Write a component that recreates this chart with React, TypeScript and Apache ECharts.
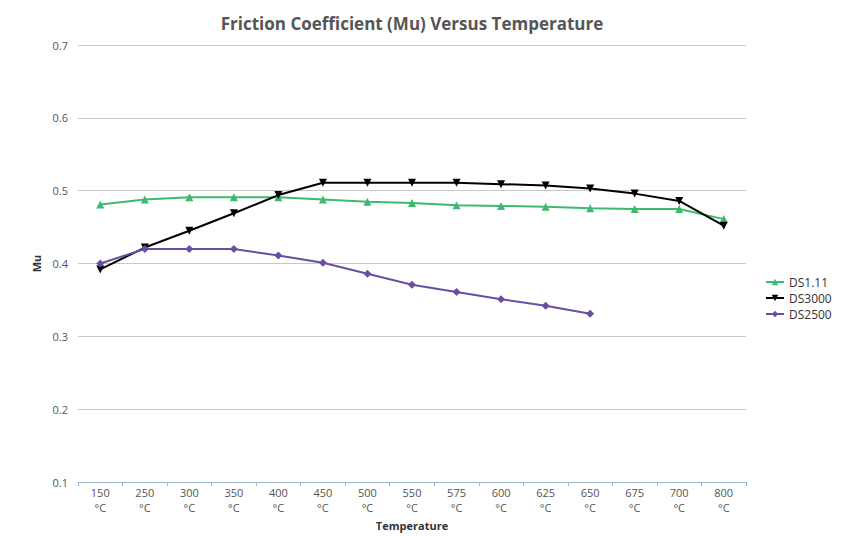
import React, { useEffect, useRef } from "react";
import * as echarts from "echarts";

const categories = ["150", "250", "300", "350", "400", "450", "500", "550", "575", "600", "625", "650", "675", "700", "800"];
const ds111 = [0.481, 0.488, 0.491, 0.491, 0.491, 0.488, 0.485, 0.483, 0.480, 0.479, 0.478, 0.476, 0.475, 0.475, 0.461];
const ds3000 = [0.392, 0.422, 0.445, 0.469, 0.494, 0.511, 0.511, 0.511, 0.511, 0.509, 0.507, 0.503, 0.496, 0.486, 0.452];
const ds2500 = [0.400, 0.420, 0.420, 0.420, 0.411, 0.401, 0.386, 0.371, 0.361, 0.351, 0.342, 0.331, null, null, null];

const FONT = "'Open Sans', 'DejaVu Sans', sans-serif";

export default function App() {
  const ref = useRef<HTMLDivElement>(null);
  useEffect(() => {
    const chart = echarts.init(ref.current!, null, { renderer: "svg" });
    chart.setOption({
      animation: false,
      backgroundColor: "#ffffff",
      textStyle: { fontFamily: FONT },
      title: {
        text: "Friction Coefficient (Mu) Versus Temperature",
        left: 407,
        top: 10,
        textAlign: "center",
        textStyle: { fontSize: 17, fontWeight: "bold", color: "#555555", fontFamily: FONT },
      },
      legend: {
        orient: "vertical",
        left: 760,
        top: 271,
        itemWidth: 18,
        itemHeight: 8,
        itemGap: 4,
        textStyle: { fontSize: 12, color: "#333", fontFamily: FONT },
        data: ["DS1.11", "DS3000", "DS2500"],
      },
      grid: { left: 78, right: 96, top: 45, bottom: 39 },
      xAxis: {
        type: "category",
        data: categories,
        boundaryGap: true,
        name: "Temperature",
        nameLocation: "middle",
        nameGap: 34,
        nameTextStyle: { fontSize: 11, fontWeight: "bold", color: "#333", fontFamily: FONT },
        axisLine: { lineStyle: { color: "#9fb8d0" } },
        axisTick: { show: true, length: 4, lineStyle: { color: "#9fb8d0" } },
        axisLabel: {
          interval: 0,
          fontSize: 11,
          color: "#555",
          lineHeight: 15,
          margin: 3,
          formatter: (v: string) => v + "\n°C",
        },
      },
      yAxis: {
        type: "value",
        min: 0.1,
        max: 0.7,
        interval: 0.1,
        name: "Mu",
        nameLocation: "middle",
        nameGap: 31,
        nameRotate: 90,
        nameTextStyle: { fontSize: 11, fontWeight: "bold", color: "#333", fontFamily: FONT },
        axisLine: { show: false },
        axisTick: { show: false },
        splitLine: { lineStyle: { color: "#c8c8c8" } },
        axisLabel: {
          fontSize: 11,
          color: "#555",
          margin: 10,
          formatter: (v: number) => v.toFixed(1),
        },
      },
      series: [
        {
          name: "DS1.11",
          type: "line",
          data: ds111,
          symbol: "triangle",
          symbolSize: 8,
          color: "#3dba6f",
          lineStyle: { width: 2 },
        },
        {
          name: "DS3000",
          type: "line",
          data: ds3000,
          symbol: "triangle",
          symbolRotate: 180,
          symbolSize: 8,
          color: "#000000",
          lineStyle: { width: 2 },
        },
        {
          name: "DS2500",
          type: "line",
          data: ds2500,
          symbol: "diamond",
          symbolSize: 8,
          color: "#6a4ea4",
          lineStyle: { width: 2 },
        },
      ],
    });
    return () => chart.dispose();
  }, []);
  return <div ref={ref} style={{ position: "absolute", left: 0, top: 0, width: 842, height: 536 }} />;
}
